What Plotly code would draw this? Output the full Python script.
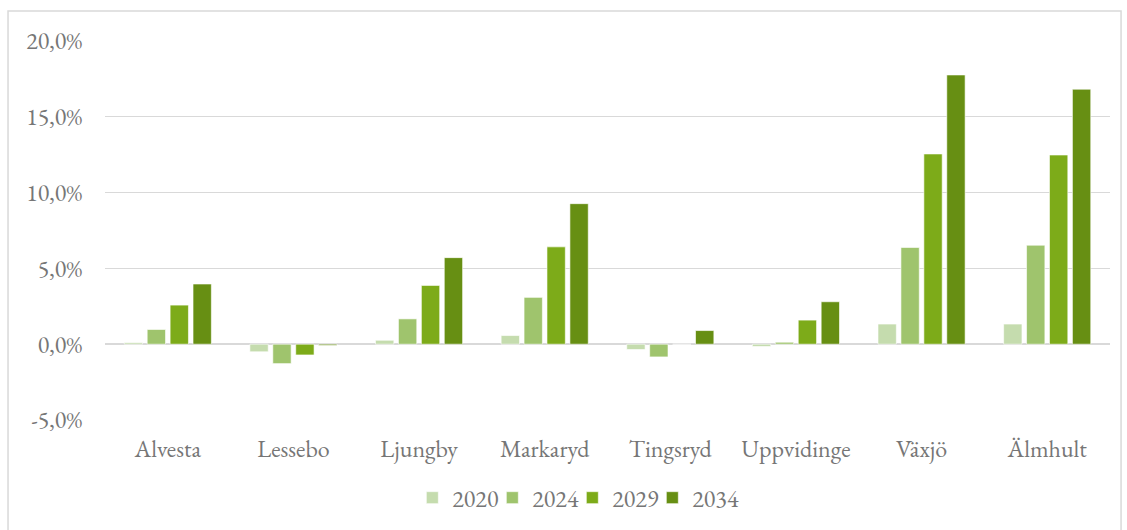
import plotly.graph_objects as go

categories = ["Alvesta", "Lessebo", "Ljungby", "Markaryd", "Tingsryd", "Uppvidinge", "Växjö", "Älmhult"]
series_names = ["2020", "2024", "2029", "2034"]
v2020 = [0.1, -0.5, 0.26, 0.57, -0.35, -0.15, 1.33, 1.33]
v2024 = [0.97, -1.28, 1.67, 3.09, -0.84, 0.13, 6.38, 6.53]
v2029 = [2.58, -0.71, 3.88, 6.42, 0.0, 1.59, 12.55, 12.48]
v2034 = [3.97, -0.08, 5.71, 9.27, 0.9, 2.8, 17.76, 16.82]
tick_vals = [-5, 0, 5, 10, 15, 20]
tick_text = ["-5,0%", "0,0%", "5,0%", "10,0%", "15,0%", "20,0%"]

colors = ["#c5dcae", "#9fc46d", "#7dab19", "#678f13"]
font_family = "Garamond, 'EB Garamond', 'Liberation Serif', 'DejaVu Serif', serif"
grey = "#767676"
fs = 24

fig = go.Figure()
for name, vals, col in zip(series_names, [v2020, v2024, v2029, v2034], colors):
    fig.add_trace(go.Bar(
        x=categories, y=vals, name=name,
        marker=dict(color=col, line=dict(color="rgba(255,255,255,0.6)", width=1)),
        hovertemplate="%{x}: %{y:.1f}%<extra>" + name + "</extra>",
    ))

fig.update_layout(
    width=1127, height=530,
    paper_bgcolor="white", plot_bgcolor="white",
    barmode="group", bargap=0.27, bargroupgap=0.2,
    margin=dict(l=105, r=17, t=41, b=110, autoexpand=False),
    font=dict(family=font_family, size=fs, color=grey),
    legend=dict(orientation="h", x=0.465, xanchor="center", y=-0.206, yanchor="middle",
                font=dict(size=fs, color=grey), traceorder="normal", itemwidth=30,
                entrywidth=35, entrywidthmode="pixels"),
    xaxis=dict(showgrid=False, showline=False, ticks="", ticklabelstandoff=12,
               tickfont=dict(size=fs, color=grey)),
    yaxis=dict(range=[-5, 20], tickvals=tick_vals, ticktext=tick_text,
               showgrid=True, gridcolor="#d9d9d9", gridwidth=1.3,
               zeroline=True, zerolinecolor="#d9d9d9", zerolinewidth=1.8,
               showline=False, ticks="", ticklabelstandoff=22,
               tickfont=dict(size=fs, color=grey)),
    shapes=[dict(type="rect", xref="paper", yref="paper",
                 x0=-0.0965, x1=1.011, y0=-0.35, y1=1.079,
                 line=dict(color="#d9d9d9", width=1.5), fillcolor="rgba(0,0,0,0)", layer="below")],
)

post = (
    "document.body.style.margin='0';document.body.style.overflow='hidden';"
    "document.querySelectorAll('.legend [clip-path]').forEach(function(e){e.removeAttribute('clip-path');});"
)
fig.write_html("out.html", config={"displayModeBar": False}, post_script=post)
